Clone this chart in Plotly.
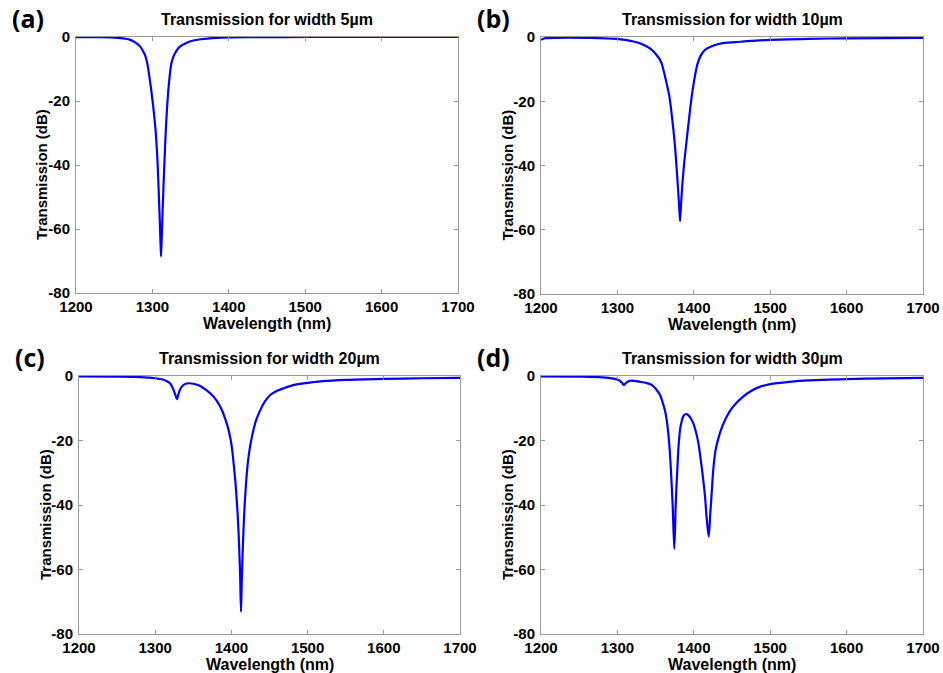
import plotly.graph_objects as go

# ---------------- data ----------------
wl_a = [1200, 1230, 1245, 1255, 1265, 1271, 1277, 1281, 1284, 1287, 1290.3, 1293.3, 1296, 1299,
        1302, 1304.5, 1306.3, 1307.7, 1309, 1310.3, 1311.3, 1312.5, 1313.7, 1315.2, 1316.9,
        1318.5, 1320, 1322, 1324.3, 1326.5, 1329.6, 1333, 1336, 1343, 1353.5, 1363, 1375, 1390,
        1402, 1450, 1500, 1600, 1700]
t_a = [-0.05, -0.05, -0.1, -0.25, -0.55, -0.9, -1.6, -2.3, -3.0, -4.1, -5.6, -8.2, -12.3, -17.6,
       -23.8, -30.2, -37, -44.7, -53, -62, -68.6, -60.5, -52, -42.5, -32.5,
       -25, -19.3, -13.6, -9.0, -6.8, -5.1, -3.8, -3.0, -2.0, -1.1, -0.7, -0.4, -0.2,
       -0.1, -0.05, 0, 0, 0]

wl_b = [1200, 1205, 1220, 1264, 1299, 1312, 1321, 1330, 1338, 1345, 1351, 1354.5, 1358, 1361,
        1365, 1368, 1372, 1375.4, 1379, 1380.8, 1382, 1383.2, 1385, 1387.5, 1390.7, 1394,
        1397, 1400.5, 1404.6, 1409, 1414.7, 1425, 1438, 1455, 1470, 1500, 1550, 1600, 1700]
t_b = [-0.9, -0.4, -0.25, -0.3, -0.6, -1.0, -1.4, -2.0, -2.9, -4.0, -5.5, -6.6, -8.3, -11,
       -15, -18.4, -26, -34, -46, -52.5, -57.3, -52.5, -46, -39, -32, -25,
       -19, -13.5, -8.6, -5.8, -4.0, -2.7, -1.9, -1.6, -1.3, -0.9, -0.6, -0.4, -0.3]

wl_c = [1200, 1250, 1280, 1300, 1310, 1316, 1320, 1324, 1326.5, 1328.6, 1330.5, 1333, 1337,
        1340, 1344, 1350, 1357, 1363.5, 1370, 1376.6, 1381, 1385.4, 1389, 1392, 1395.5,
        1398.6, 1401, 1402.9, 1405.3, 1407.3, 1408.8, 1410.1, 1411.4, 1412.6, 1413.6, 1414.8,
        1416, 1417.3, 1419, 1421.3, 1424, 1427, 1432, 1438, 1444, 1451, 1460, 1468.5, 1480,
        1494.8, 1520, 1550, 1600, 1650, 1700]
t_c = [-0.1, -0.2, -0.35, -0.7, -1.1, -1.7, -2.4, -4.3, -5.9, -7.2, -5.6, -4.0, -2.8,
       -2.4, -2.25, -2.4, -2.9, -3.8, -4.9, -6.4, -7.8, -9.5, -11.4, -13.4, -16,
       -19.2, -22.8, -27.1, -33, -39.5, -45.5, -52.5, -61.5, -73.1, -63.5, -54.5,
       -47, -40.5, -34, -27.5, -22.6, -18.8, -14, -10.5, -7.9, -5.9, -4.6, -3.8, -2.9,
       -2.3, -1.6, -1.2, -0.9, -0.7, -0.6]

wl_d = [1200, 1250, 1280, 1295, 1302, 1306, 1308.6, 1311, 1314, 1316.5, 1322, 1330, 1337,
        1342.7, 1348, 1352, 1355.8, 1359, 1362, 1364.5, 1367.5, 1370, 1372.3, 1374.5, 1376.3,
        1378.4, 1380, 1382, 1384, 1386, 1388.5, 1390.7, 1393, 1396, 1399.4, 1403, 1406, 1408,
        1411.5, 1414.7, 1417, 1419.5, 1421.5, 1423.5, 1425.5, 1428.5, 1432, 1437, 1443, 1449,
        1456, 1465, 1474, 1487, 1500, 1525, 1550, 1600, 1650, 1700]
t_d = [-0.1, -0.2, -0.4, -0.8, -1.3, -2.1, -2.8, -2.2, -1.7, -1.5, -1.5, -1.8, -2.1,
       -2.5, -3.4, -4.5, -5.9, -8, -10.5, -13.6, -20, -29, -40, -53.6, -40,
       -29, -22, -16.7, -14.2, -12.6, -11.9, -11.8, -12.2, -13.1, -14.7, -17.5, -20.8, -24,
       -30.5, -37.4, -44.5, -49.8, -43, -36, -29, -23, -19.5, -15.8, -12.6, -10.3,
       -8.3, -6.3, -4.8, -3.3, -2.5, -1.8, -1.35, -0.95, -0.75, -0.6]

panel_labels = ["(a)", "(b)", "(c)", "(d)"]
titles = ["Transmission for width 5\u00b5m", "Transmission for width 10\u00b5m",
          "Transmission for width 20\u00b5m", "Transmission for width 30\u00b5m"]
x_ticks = [1200, 1300, 1400, 1500, 1600, 1700]
x_tick_text = ["1200", "1300", "1400", "1500", "1600", "1700"]
y_ticks = [-80, -60, -40, -20, 0]
y_tick_text = ["-80", "-60", "-40", "-20", "0"]
x_label = "Wavelength (nm)"
y_label = "Transmission (dB)"

series = [(wl_a, t_a), (wl_b, t_b), (wl_c, t_c), (wl_d, t_d)]

# ---------------- layout (pixel geometry) ----------------
W, H = 943, 673
# left, right, top, bottom in pixels
boxes = [(76, 458, 37, 293), (541, 923, 37, 294), (79, 460, 376, 634), (541, 923, 376, 634)]

def px(x):
    return x / W

def py(y):
    return 1 - y / H

FONT = "Liberation Sans, Arial, sans-serif"
fig = go.Figure()
annotations = []
layout = dict(width=W, height=H, margin=dict(l=0, r=0, t=0, b=0, pad=0, autoexpand=False),
              paper_bgcolor="white", plot_bgcolor="white", showlegend=False, template="none")

for i, ((xs, ys), (l, r, t, b)) in enumerate(zip(series, boxes)):
    n = "" if i == 0 else str(i + 1)
    fig.add_trace(go.Scatter(x=xs, y=ys, mode="lines",
                             line=dict(color="#0000ff", width=2.2, shape="spline", smoothing=0.8),
                             xaxis="x" + n, yaxis="y" + n, hoverinfo="skip"))
    common = dict(showline=True, linecolor="#9a9a9a", linewidth=1, mirror="ticks",
                  ticks="inside", ticklen=4, tickcolor="#9a9a9a", showgrid=False,
                  zeroline=False, automargin=False,
                  tickfont=dict(family=FONT, size=15, color="black", weight="bold"))
    layout["xaxis" + n] = dict(domain=[px(l), px(r)], anchor="y" + n, range=[1200, 1700],
                               tickvals=x_ticks, ticktext=x_tick_text, **common)
    layout["yaxis" + n] = dict(domain=[py(b), py(t)], anchor="x" + n, range=[-80, 0],
                               tickvals=y_ticks, ticktext=y_tick_text, ticklabelstandoff=2, **common)
    cx = (l + r) / 2
    cy = (t + b) / 2
    # subplot title
    annotations.append(dict(text=titles[i], x=px(cx), y=py(t - 18), xref="paper", yref="paper",
                            showarrow=False, xanchor="center", yanchor="middle",
                            font=dict(family=FONT, size=16, color="black", weight="bold")))
    # x label
    annotations.append(dict(text=x_label, x=px(cx), y=py(b + 30), xref="paper", yref="paper",
                            showarrow=False, xanchor="center", yanchor="middle",
                            font=dict(family=FONT, size=16, color="black", weight="bold")))
    # y label
    annotations.append(dict(text=y_label, x=px(l - 34), y=py(cy + 10), xref="paper", yref="paper",
                            showarrow=False, xanchor="center", yanchor="middle", textangle=-90,
                            font=dict(family=FONT, size=15, color="black", weight="bold")))
    # panel label
    annotations.append(dict(text=panel_labels[i], x=px(l - 66), y=py(t - 19), xref="paper",
                            yref="paper", showarrow=False, xanchor="left", yanchor="middle",
                            font=dict(family="Open Sans, Lato, sans-serif", size=25,
                                      color="black", weight="bold")))

layout["annotations"] = annotations
fig.update_layout(**layout)
fig.write_html("out.html")
